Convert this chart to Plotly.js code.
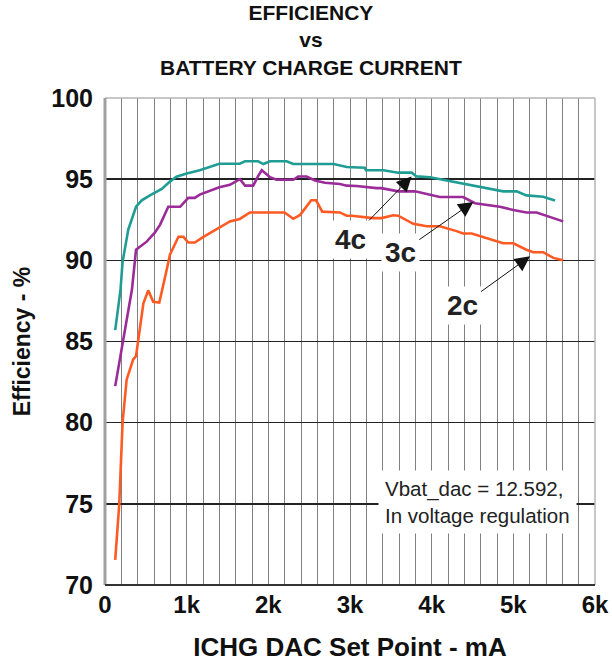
<!DOCTYPE html>
<html>
<head>
<meta charset="utf-8">
<script src="https://cdn.plot.ly/plotly-3.0.1.min.js"></script>
<style>html,body{margin:0;padding:0;background:#fff;}#chart{width:612px;height:662px;}</style>
</head>
<body>
<div id="chart"></div>
<script>
// ---- data ----
const seriesNames = ['4c', '3c', '2c'];

const x4c = [125, 190, 215, 285, 380, 450, 550, 695, 795, 875, 1000, 1160, 1400, 1650, 1715, 1875, 1940, 2020, 2225, 2305, 2800, 2960, 3180, 3195, 3410, 3590, 3755, 3815, 3980, 4100, 4265, 4425, 4590, 4795, 4875, 5040, 5160, 5365, 5510];
const y4c = [85.7, 88.2, 89.9, 91.9, 93.3, 93.7, 94.0, 94.4, 94.85, 95.15, 95.35, 95.55, 95.95, 95.95, 96.1, 96.1, 95.93, 96.1, 96.1, 95.93, 95.93, 95.75, 95.7, 95.55, 95.55, 95.4, 95.4, 95.17, 95.12, 95.0, 94.85, 94.7, 94.55, 94.35, 94.25, 94.25, 94.0, 93.92, 93.68];

const x3c = [125, 330, 380, 450, 510, 610, 675, 775, 920, 1020, 1100, 1160, 1400, 1530, 1652, 1715, 1815, 1876, 1920, 2020, 2100, 2305, 2366, 2468, 2571, 2693, 2876, 2960, 3080, 3325, 3385, 3590, 3795, 4100, 4385, 4530, 4670, 4835, 5000, 5160, 5285, 5445, 5610];
const y3c = [82.25, 88.2, 90.65, 90.95, 91.15, 91.7, 92.2, 93.3, 93.3, 93.85, 93.85, 94.05, 94.5, 94.65, 95.0, 94.6, 94.6, 95.2, 95.55, 95.12, 94.96, 94.96, 95.16, 95.16, 94.92, 94.78, 94.7, 94.6, 94.58, 94.45, 94.45, 94.25, 94.25, 93.9, 93.9, 93.52, 93.42, 93.3, 93.1, 92.95, 92.95, 92.7, 92.4];

const x2c = [125, 175, 215, 265, 345, 380, 470, 530, 590, 665, 755, 795, 900, 960, 1020, 1100, 1205, 1400, 1530, 1650, 1775, 2200, 2305, 2390, 2525, 2585, 2660, 2875, 2960, 3020, 3285, 3385, 3530, 3590, 3775, 3940, 4100, 4305, 4385, 4490, 4670, 4875, 5000, 5160, 5245, 5365, 5490, 5610];
const y2c = [71.55, 75.0, 80.0, 82.65, 83.9, 84.1, 87.35, 88.15, 87.45, 87.4, 89.4, 90.35, 91.45, 91.45, 91.1, 91.1, 91.45, 92.05, 92.4, 92.55, 92.95, 92.95, 92.56, 92.8, 93.7, 93.7, 93.0, 92.95, 92.75, 92.75, 92.6, 92.6, 92.78, 92.75, 92.25, 92.1, 92.1, 91.8, 91.65, 91.65, 91.35, 91.05, 91.05, 90.65, 90.5, 90.5, 90.15, 90.0];

const xTickVals = [0, 1000, 2000, 3000, 4000, 5000, 6000];
const xTickText = ['0', '1k', '2k', '3k', '4k', '5k', '6k'];
const yTickVals = [70, 75, 80, 85, 90, 95, 100];
const yTickText = ['70', '75', '80', '85', '90', '95', '100'];

// arrow tip points for the series labels (data coordinates)
const labelTipX = [3755, 4510, 5205];
const labelTipY = [95.17, 93.6, 90.25];

const noteText = 'Vbat_dac = 12.592,<br>In voltage regulation';

// ---- styling ----
const FONT = 'Liberation Sans, Arial, Helvetica, sans-serif';
const colors = ['#1f9d95', '#9a2b98', '#ff5a24'];
const xs = [x4c, x3c, x2c];
const ys = [y4c, y3c, y2c];

const traces = seriesNames.map((n, i) => ({
  type: 'scatter', mode: 'lines', name: n,
  x: xs[i], y: ys[i],
  line: {color: colors[i], width: 2.6},
  hoverinfo: 'skip'
}));

const labelOffsets = [[-61, 63], [-73, 51], [-68, 49]];
const annotations = seriesNames.map((n, i) => ({
  x: labelTipX[i], y: labelTipY[i], xref: 'x', yref: 'y',
  text: '<b>' + n + '</b>',
  showarrow: true, arrowhead: 2, arrowsize: 3, arrowwidth: 1, arrowcolor: '#111',
  ax: labelOffsets[i][0], ay: labelOffsets[i][1], standoff: 0,
  bgcolor: '#fff', borderpad: 3,
  font: {family: FONT, size: 28, color: '#222'}
}));
annotations.push({
  x: 4565, y: 75.1, xref: 'x', yref: 'y', showarrow: false,
  text: noteText, align: 'left', bgcolor: '#fff', borderpad: 6,
  font: {family: FONT, size: 20.5, color: '#222'}
});

const layout = {
  width: 612, height: 662,
  margin: {l: 105, r: 17, t: 98, b: 77},
  paper_bgcolor: '#fff', plot_bgcolor: '#fff',
  showlegend: false,
  title: {
    text: '<b>EFFICIENCY</b><br><b>vs</b><br><b>BATTERY CHARGE CURRENT</b>',
    x: 0.508, xanchor: 'center', xref: 'container',
    y: 1 - 20 / 662, yanchor: 'middle', yref: 'container',
    font: {family: FONT, size: 21, color: '#111'}
  },
  xaxis: {
    range: [0, 6000], tickvals: xTickVals, ticktext: xTickText,
    showgrid: true, gridcolor: '#808080', gridwidth: 1,
    minor: {dtick: 200, tick0: 0, showgrid: true, gridcolor: '#808080', gridwidth: 1},
    zeroline: false, showline: false, ticks: '',
    ticklabelstandoff: 3,
    tickfont: {family: FONT, size: 24, color: '#111', weight: 'bold'},
    title: {text: '<b>ICHG DAC Set Point - mA</b>', standoff: 20, font: {family: FONT, size: 26, color: '#111'}},
    automargin: false, fixedrange: true
  },
  yaxis: {
    range: [70, 100], tickvals: yTickVals, ticktext: yTickText,
    showgrid: true, gridcolor: '#222', gridwidth: 1.6,
    zeroline: false, showline: false, ticks: '',
    ticklabelstandoff: 11,
    tickfont: {family: FONT, size: 25, color: '#111', weight: 'bold'},
    title: {text: '<b>Efficiency - %</b>', standoff: 14, font: {family: FONT, size: 23, color: '#111'}},
    automargin: false, fixedrange: true
  },
  shapes: [
    {type: 'line', xref: 'paper', yref: 'paper', x0: 0, x1: 1, y0: 1, y1: 1, line: {color: '#b5b5b5', width: 1.5}, layer: 'above'},
    {type: 'line', xref: 'paper', yref: 'paper', x0: 1, x1: 1, y0: 0, y1: 1, line: {color: '#b5b5b5', width: 1.5}, layer: 'above'},
    {type: 'line', xref: 'paper', yref: 'paper', x0: 0, x1: 0, y0: 0, y1: 1, line: {color: '#a0a0a0', width: 3}, layer: 'above'},
    {type: 'line', xref: 'paper', yref: 'paper', x0: 0, x1: 1, y0: 0, y1: 0, line: {color: '#333', width: 2.2}, layer: 'above'}
  ],
  annotations: annotations
};

Plotly.newPlot('chart', traces, layout, {displayModeBar: false, staticPlot: true});
</script>
</body>
</html>
